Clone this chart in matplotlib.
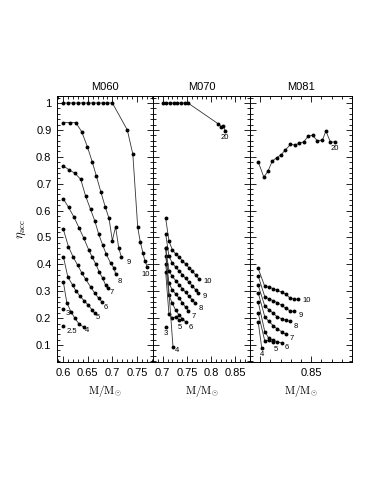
import numpy as np
import matplotlib
matplotlib.use('Agg')
import matplotlib.pyplot as plt
from matplotlib.ticker import MultipleLocator, FixedLocator, FixedFormatter

plt.rcParams['font.family'] = ['Liberation Sans', 'DejaVu Sans']
plt.rcParams['mathtext.fontset'] = 'cm'

# ---- M060 panel ----
m060 = {
    '10': ([0.60, 0.61, 0.62, 0.63, 0.64, 0.65, 0.66, 0.67, 0.68, 0.69, 0.70, 0.7305, 0.7418, 0.7518, 0.757, 0.7624, 0.7663, 0.7717],
           [1.0, 1.0, 1.0, 1.0, 1.0, 1.0, 1.0, 1.0, 1.0, 1.0, 1.0, 0.90, 0.81, 0.538, 0.484, 0.443, 0.414, 0.389]),
    '9': ([0.600, 0.6136, 0.6255, 0.6375, 0.6489, 0.6588, 0.6673, 0.6767, 0.6853, 0.6932, 0.700, 0.7066, 0.7131, 0.7185],
          [0.927, 0.927, 0.927, 0.893, 0.838, 0.782, 0.729, 0.668, 0.615, 0.571, 0.488, 0.540, 0.460, 0.428]),
    '8': ([0.600, 0.612, 0.6235, 0.6355, 0.6454, 0.6554, 0.6641, 0.6721, 0.6801, 0.6873, 0.6966, 0.704, 0.7066],
          [0.766, 0.751, 0.739, 0.716, 0.654, 0.605, 0.562, 0.513, 0.472, 0.439, 0.404, 0.385, 0.363]),
    '7': ([0.600, 0.6106, 0.6219, 0.6319, 0.6418, 0.6518, 0.6584, 0.6663, 0.6729, 0.6803, 0.6863, 0.6902],
          [0.643, 0.612, 0.575, 0.536, 0.497, 0.454, 0.429, 0.401, 0.373, 0.348, 0.323, 0.311]),
    '6': ([0.600, 0.6104, 0.6203, 0.6289, 0.6375, 0.6454, 0.6554, 0.6641, 0.6721, 0.6787],
          [0.530, 0.466, 0.426, 0.398, 0.369, 0.345, 0.317, 0.293, 0.274, 0.261]),
    '5': ([0.600, 0.609, 0.6189, 0.6255, 0.6335, 0.6422, 0.6508, 0.6588, 0.6641],
          [0.429, 0.354, 0.323, 0.302, 0.283, 0.265, 0.249, 0.230, 0.218]),
    '4': ([0.600, 0.607, 0.6155, 0.6235, 0.6322, 0.6422],
          [0.334, 0.258, 0.224, 0.200, 0.178, 0.166]),
    '3': ([0.600], [0.233]),
    '2.5': ([0.600], [0.171]),
}
m060_off = {'10': (-1, -5), '9': (5, -4), '8': (3, -5), '7': (3, -3), '6': (3, -4),
            '5': (2, -3), '4': (2, -2.5), '3': (3, -3), '2.5': (6, -4)}

# ---- M070 panel ----
m070 = {
    '20': ([0.700, 0.7075, 0.715, 0.7225, 0.730, 0.7375, 0.745, 0.752, 0.815, 0.821, 0.825, 0.829],
           [1.0, 1.0, 1.0, 1.0, 1.0, 1.0, 1.0, 1.0, 0.922, 0.911, 0.914, 0.896]),
    '10': ([0.7062, 0.7129, 0.7199, 0.7267, 0.7335, 0.7405, 0.7472, 0.754, 0.761, 0.7678, 0.7745],
           [0.571, 0.487, 0.454, 0.439, 0.428, 0.414, 0.401, 0.388, 0.375, 0.361, 0.346]),
    '9': ([0.7062, 0.7129, 0.7199, 0.7267, 0.7335, 0.7405, 0.7472, 0.754, 0.761, 0.7678, 0.772],
          [0.513, 0.430, 0.405, 0.390, 0.376, 0.362, 0.348, 0.334, 0.320, 0.306, 0.295]),
    '8': ([0.7062, 0.7129, 0.7199, 0.7267, 0.7335, 0.7405, 0.7472, 0.754, 0.761, 0.766],
          [0.460, 0.375, 0.355, 0.340, 0.325, 0.310, 0.296, 0.282, 0.268, 0.258]),
    '7': ([0.7062, 0.7129, 0.7199, 0.7267, 0.7335, 0.7405, 0.7472, 0.753],
          [0.430, 0.330, 0.305, 0.290, 0.275, 0.258, 0.240, 0.228]),
    '6': ([0.7062, 0.7129, 0.7199, 0.7267, 0.7335, 0.7405, 0.7472],
          [0.400, 0.285, 0.255, 0.230, 0.212, 0.198, 0.186]),
    '5': ([0.7062, 0.7129, 0.7199, 0.7267, 0.7335],
          [0.370, 0.215, 0.200, 0.205, 0.195]),
    '4': ([0.7062, 0.7212],
          [0.460, 0.094]),
    '3': ([0.7062], [0.168]),
}
m070_off = {'20': (0, -5), '10': (6, -2), '9': (5, -3), '8': (4, -4), '7': (4, -4), '6': (4, -4),
            '5': (1, -6), '4': (3, -3), '3': (0, -5)}

# ---- M081 panel ----
m081 = {
    '20': ([0.798, 0.8036, 0.8078, 0.8118, 0.816, 0.8203, 0.8248, 0.8297, 0.834, 0.8382, 0.8428, 0.8471,
            0.8513, 0.8559, 0.861, 0.8644, 0.8689, 0.8732],
           [0.782, 0.724, 0.748, 0.784, 0.796, 0.807, 0.826, 0.846, 0.844, 0.850, 0.856, 0.877,
            0.880, 0.860, 0.862, 0.896, 0.854, 0.856]),
    '10': ([0.798, 0.8045, 0.8085, 0.8128, 0.8167, 0.821, 0.8252, 0.8291, 0.833, 0.8373],
           [0.385, 0.318, 0.315, 0.310, 0.303, 0.297, 0.288, 0.276, 0.271, 0.270]),
    '9': ([0.798, 0.8045, 0.8085, 0.8128, 0.8167, 0.821, 0.8252, 0.8291, 0.833],
          [0.357, 0.280, 0.272, 0.265, 0.258, 0.248, 0.236, 0.228, 0.225]),
    '8': ([0.798, 0.8045, 0.8085, 0.8128, 0.8167, 0.821, 0.8252, 0.8291],
          [0.323, 0.245, 0.232, 0.218, 0.205, 0.198, 0.192, 0.188]),
    '7': ([0.798, 0.8045, 0.8085, 0.8128, 0.8167, 0.821, 0.8252],
          [0.295, 0.205, 0.188, 0.172, 0.160, 0.150, 0.140]),
    '6': ([0.798, 0.8045, 0.8085, 0.8128, 0.8167, 0.821],
          [0.261, 0.150, 0.125, 0.118, 0.112, 0.108]),
    '5': ([0.798, 0.8045, 0.8085, 0.8128],
          [0.220, 0.115, 0.118, 0.110]),
    '4': ([0.798, 0.8015],
          [0.187, 0.090]),
}
m081_off = {'20': (0, -5), '10': (6, -1), '9': (5, -3), '8': (4, -4), '7': (4, -3), '6': (4, -3),
            '5': (2, -5), '4': (0, -5)}

panels = [('M060', m060, m060_off, (0.587, 0.783), [0.6, 0.65, 0.7, 0.75], ['0.6', '0.65', '0.7', '0.75']),
          ('M070', m070, m070_off, (0.68, 0.88), [0.7, 0.75, 0.8, 0.85], ['0.7', '0.75', '0.8', '0.85']),
          ('M081', m081, m081_off, (0.79, 0.89), [0.8, 0.85], ['', '0.85'])]

fig = plt.figure(figsize=(3.83, 4.95), dpi=100)
W, H = 383.0, 495.0
edges = [57, 153, 250, 352]
bottom, top = 1 - 362 / H, 1 - 96 / H

for i, (title, curves, offs, xlim, xt, xtl) in enumerate(panels):
    ax = fig.add_axes([edges[i] / W, bottom, (edges[i + 1] - edges[i]) / W, top - bottom])
    for lab, (xs, ys) in curves.items():
        ax.plot(xs, ys, '-', color='#333333', lw=0.6)
        ax.plot(xs, ys, 'o', color='black', ms=2.8, mew=0)
        dx, dy = offs[lab]
        ax.annotate(lab, xy=(xs[-1], ys[-1]), xytext=(dx, dy), textcoords='offset points',
                    ha='center', va='center', fontsize=5.5)
    ax.set_xlim(*xlim)
    ax.set_ylim(0.037, 1.026)
    ax.xaxis.set_major_locator(FixedLocator(xt))
    ax.xaxis.set_major_formatter(FixedFormatter(xtl))
    ax.xaxis.set_minor_locator(MultipleLocator(0.01))
    ax.yaxis.set_major_locator(MultipleLocator(0.1))
    ax.yaxis.set_minor_locator(MultipleLocator(0.02))
    ax.tick_params(which='both', direction='in', top=True, right=True, labelsize=8, pad=4)
    ax.tick_params(which='major', length=4.5, width=0.6)
    ax.tick_params(which='minor', length=2.5, width=0.6)
    for s in ax.spines.values():
        s.set_linewidth(0.7)
    ax.set_title(title, fontsize=8, pad=4)
    ax.set_xlabel(r'$\mathrm{M/M_{\odot}}$', fontsize=8, labelpad=4)
    if i == 0:
        ax.yaxis.set_major_formatter(plt.FuncFormatter(lambda v, p: '%g' % round(v, 2)))
        ax.set_ylabel(r'$\eta_{\rm acc}$', fontsize=9, labelpad=6)
    else:
        ax.set_yticklabels([])

fig.savefig('out.png', dpi=100)
